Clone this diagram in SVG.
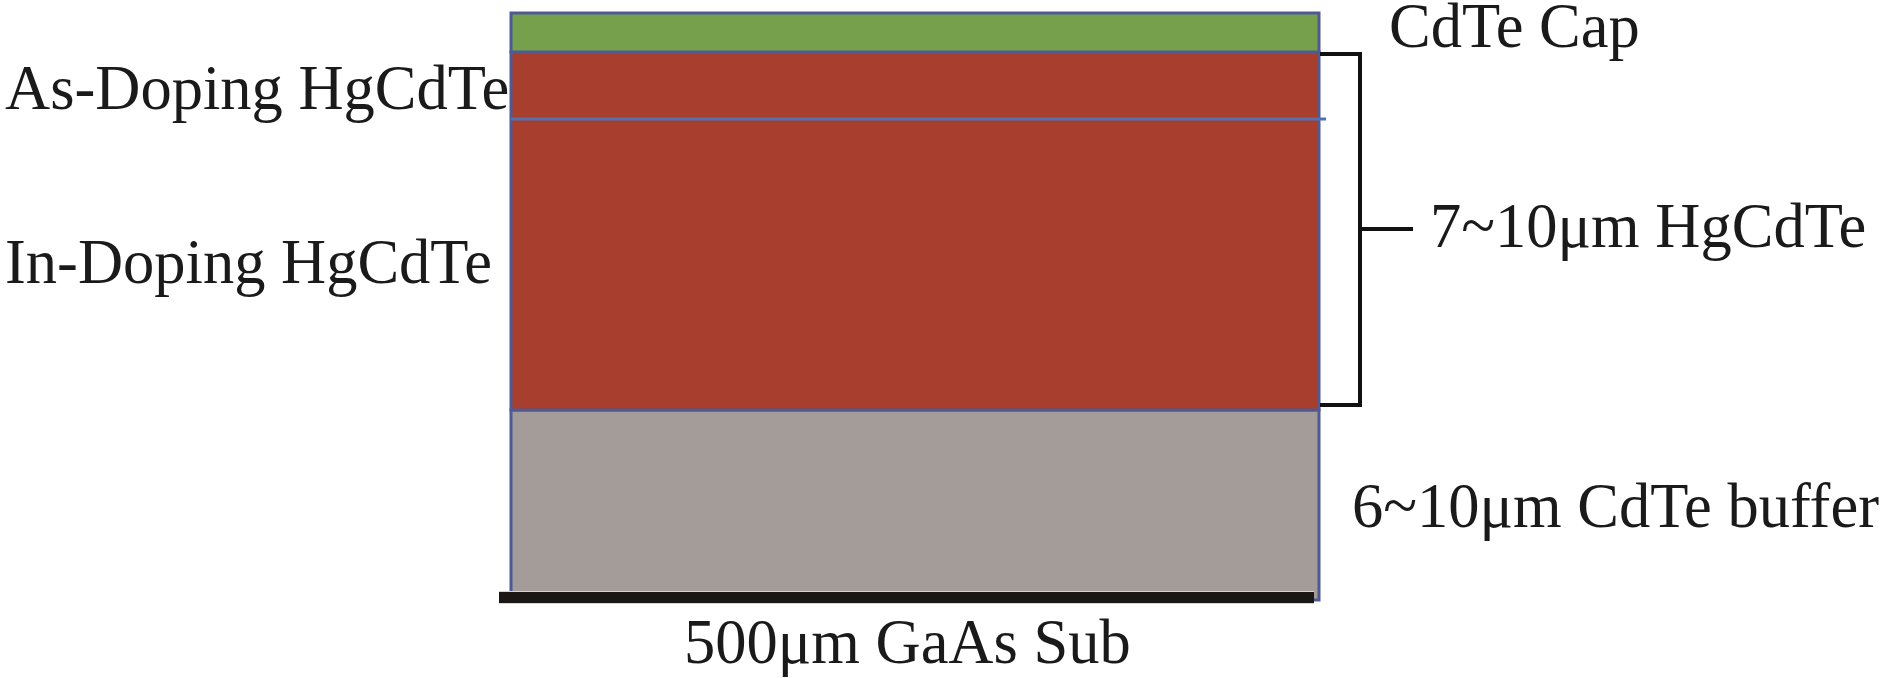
<svg xmlns="http://www.w3.org/2000/svg" width="1890" height="678" viewBox="0 0 1890 678">
<style>
text{font-family:"Liberation Serif","Times New Roman",serif;font-size:62.5px;fill:#1a1a1a}
.layer{stroke:#4F5A94;stroke-width:3}
.br{fill:none;stroke:#111;stroke-width:4}
</style>
<rect width="1890" height="678" fill="#fff"/>
<g id="buffer"><rect class="layer" x="511" y="410" width="808" height="190" fill="#A39C98"/></g>
<g id="in-doping"><rect class="layer" x="511" y="52" width="808" height="358" fill="#A83F2E"/></g>
<g id="cap"><rect class="layer" x="511" y="13" width="808" height="39" fill="#77A04C"/></g>
<g id="as-doping"><line x1="511" y1="119" x2="1326" y2="119" stroke="#5470B0" stroke-width="3"/></g>
<g id="substrate"><rect x="499" y="591" width="815" height="13" fill="#d8d4d2"/><rect x="499" y="592" width="815" height="11" fill="#1a1714"/></g>
<g id="connectors"><path class="br" d="M1320,54 H1360 V405 H1320"/><line class="br" x1="1360" y1="229" x2="1413" y2="229"/></g>
<g id="labels">
<text x="5" y="109">As-Doping HgCdTe</text>
<text x="5" y="283">In-Doping HgCdTe</text>
<text x="1389" y="47">CdTe Cap</text>
<text x="1430" y="247">7~10μm HgCdTe</text>
<text x="1352" y="527">6~10μm CdTe buffer</text>
<text x="684" y="663">500μm GaAs Sub</text>
</g>
</svg>
